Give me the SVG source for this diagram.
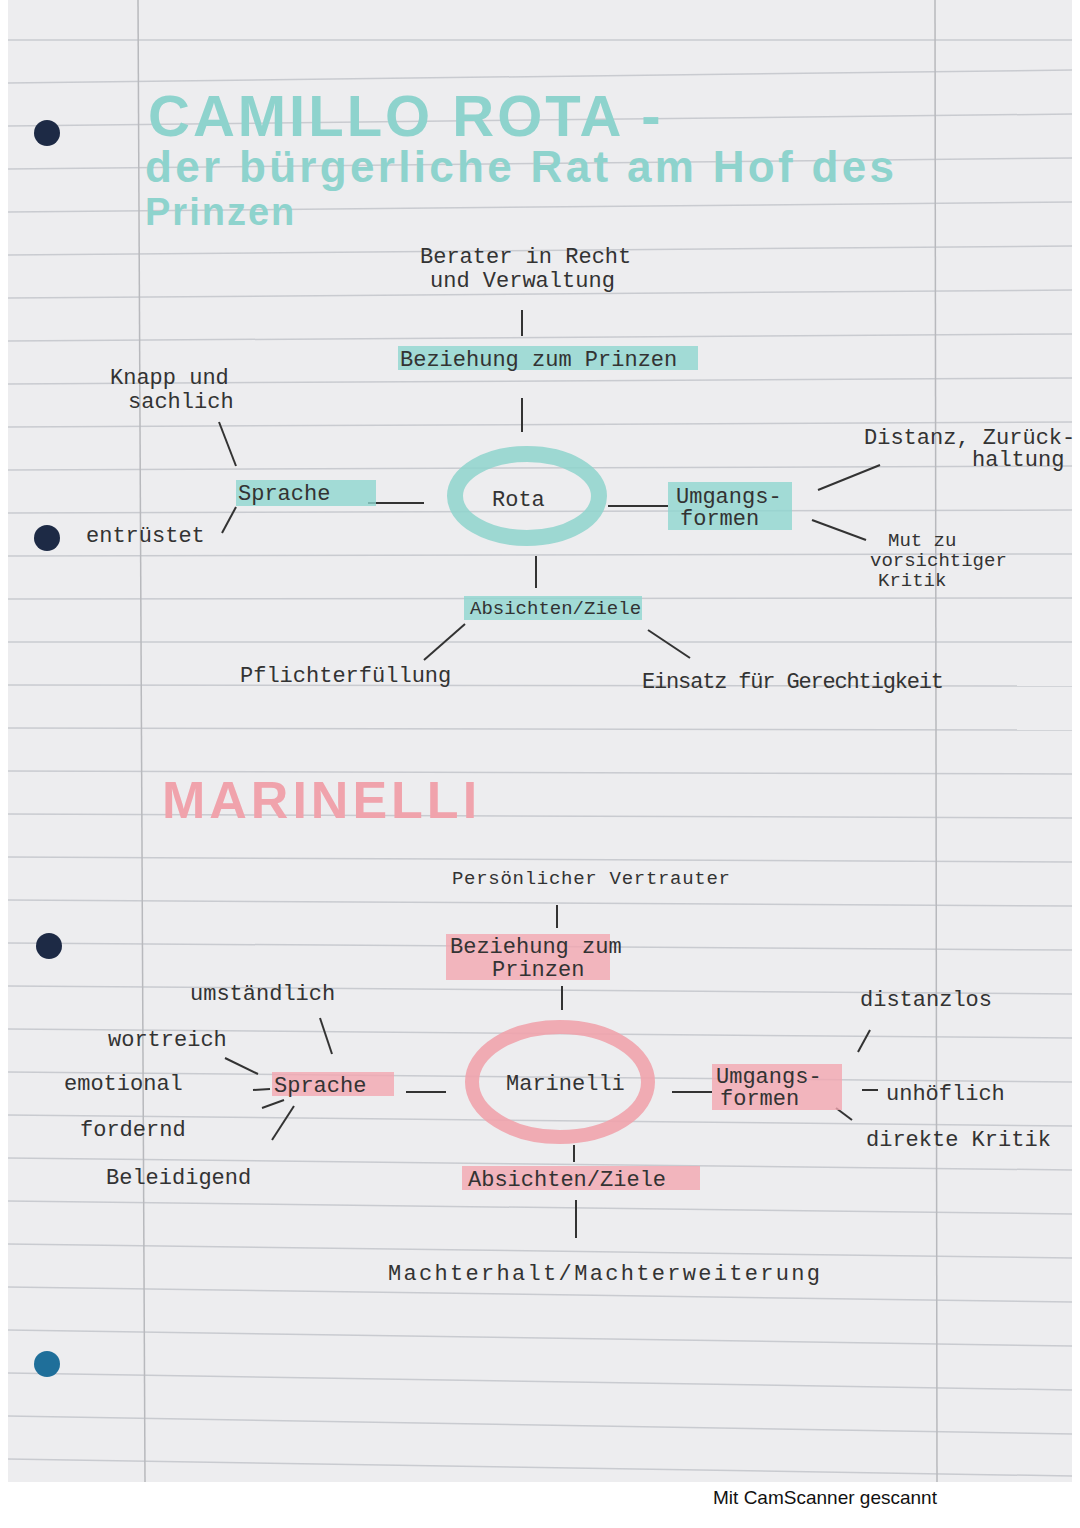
<svg xmlns="http://www.w3.org/2000/svg" width="1080" height="1528" viewBox="0 0 1080 1528">
<style>
.h{font-family:"Liberation Mono",monospace;fill:#333;font-size:22px}
.s{font-size:19px}
.ln{stroke:#333;stroke-width:2;fill:none}
.rule{stroke:#c9cbd0;stroke-width:1.5}
.mt{fill:#8fd6cf;opacity:.8}
.pk{fill:#f2a6b0;opacity:.8}
</style>
<rect width="1080" height="1528" fill="#fff"/>
<rect x="8" y="0" width="1064" height="1482" fill="#ededef"/>
<g id="rules">
<line class="rule" x1="8" y1="40" x2="1072" y2="40"/>
<line class="rule" x1="8" y1="83" x2="1072" y2="70"/>
<line class="rule" x1="8" y1="126" x2="1072" y2="114"/>
<line class="rule" x1="8" y1="169" x2="1072" y2="158"/>
<line class="rule" x1="8" y1="212" x2="1072" y2="202"/>
<line class="rule" x1="8" y1="255" x2="1072" y2="246"/>
<line class="rule" x1="8" y1="298" x2="1072" y2="290"/>
<line class="rule" x1="8" y1="341" x2="1072" y2="334"/>
<line class="rule" x1="8" y1="384" x2="1072" y2="378"/>
<line class="rule" x1="8" y1="427" x2="1072" y2="422"/>
<line class="rule" x1="8" y1="470" x2="1072" y2="466"/>
<line class="rule" x1="8" y1="513" x2="1072" y2="510"/>
<line class="rule" x1="8" y1="556" x2="1072" y2="554"/>
<line class="rule" x1="8" y1="599" x2="1072" y2="598"/>
<line class="rule" x1="8" y1="642" x2="1072" y2="642"/>
<line class="rule" x1="8" y1="685" x2="1072" y2="686"/>
<line class="rule" x1="8" y1="728" x2="1072" y2="730"/>
<line class="rule" x1="8" y1="771" x2="1072" y2="774"/>
<line class="rule" x1="8" y1="814" x2="1072" y2="818"/>
<line class="rule" x1="8" y1="857" x2="1072" y2="862"/>
<line class="rule" x1="8" y1="900" x2="1072" y2="906"/>
<line class="rule" x1="8" y1="943" x2="1072" y2="950"/>
<line class="rule" x1="8" y1="986" x2="1072" y2="994"/>
<line class="rule" x1="8" y1="1029" x2="1072" y2="1038"/>
<line class="rule" x1="8" y1="1072" x2="1072" y2="1082"/>
<line class="rule" x1="8" y1="1115" x2="1072" y2="1126"/>
<line class="rule" x1="8" y1="1158" x2="1072" y2="1170"/>
<line class="rule" x1="8" y1="1201" x2="1072" y2="1214"/>
<line class="rule" x1="8" y1="1244" x2="1072" y2="1258"/>
<line class="rule" x1="8" y1="1287" x2="1072" y2="1302"/>
<line class="rule" x1="8" y1="1330" x2="1072" y2="1346"/>
<line class="rule" x1="8" y1="1373" x2="1072" y2="1390"/>
<line class="rule" x1="8" y1="1416" x2="1072" y2="1434"/>
<line class="rule" x1="8" y1="1459" x2="1072" y2="1476"/>
<line x1="138" y1="0" x2="145" y2="1482" stroke="#b8b9bd" stroke-width="1.5"/>
<line x1="935" y1="0" x2="937" y2="1482" stroke="#b8b9bd" stroke-width="1.5"/>
</g>
<g id="holes" fill="#1d2a45">
<circle cx="47" cy="133" r="13"/><circle cx="47" cy="538" r="13"/><circle cx="49" cy="946" r="13"/><circle cx="47" cy="1364" r="13" fill="#1f6f9a"/>
</g>
<g id="title" font-family="Liberation Sans,sans-serif" font-weight="bold" fill="#8ed3cd">
<text x="148" y="136" font-size="58" letter-spacing="3">CAMILLO ROTA -</text>
<text x="145" y="182" font-size="44" letter-spacing="1" textLength="750">der bürgerliche Rat am Hof des</text>
<text x="145" y="225" font-size="38" letter-spacing="2">Prinzen</text>
</g>
<g id="title2"><text x="162" y="818" font-family="Liberation Sans,sans-serif" font-weight="bold" font-size="52" fill="#f0a3ac" letter-spacing="4">MARINELLI</text></g>
<g id="connectors">
<line class="ln" x1="522" y1="310" x2="522" y2="336"/>
<line class="ln" x1="522" y1="398" x2="522" y2="432"/>
<line class="ln" x1="219" y1="422" x2="236" y2="466"/>
<line class="ln" x1="368" y1="503" x2="424" y2="503"/>
<line class="ln" x1="236" y1="507" x2="222" y2="533"/>
<line class="ln" x1="608" y1="506" x2="668" y2="506"/>
<line class="ln" x1="818" y1="490" x2="880" y2="465"/>
<line class="ln" x1="812" y1="520" x2="866" y2="540"/>
<line class="ln" x1="536" y1="556" x2="536" y2="588"/>
<line class="ln" x1="465" y1="624" x2="424" y2="660"/>
<line class="ln" x1="648" y1="630" x2="690" y2="658"/>
<line class="ln" x1="557" y1="905" x2="557" y2="928"/>
<line class="ln" x1="562" y1="986" x2="562" y2="1010"/>
<line class="ln" x1="320" y1="1018" x2="332" y2="1054"/>
<line class="ln" x1="225" y1="1058" x2="258" y2="1074"/>
<line class="ln" x1="253" y1="1090" x2="270" y2="1089"/>
<line class="ln" x1="262" y1="1108" x2="284" y2="1100"/>
<line class="ln" x1="294" y1="1106" x2="272" y2="1140"/>
<line class="ln" x1="406" y1="1092" x2="446" y2="1092"/>
<line class="ln" x1="672" y1="1092" x2="712" y2="1092"/>
<line class="ln" x1="870" y1="1030" x2="858" y2="1052"/>
<line class="ln" x1="862" y1="1090" x2="878" y2="1090"/>
<line class="ln" x1="836" y1="1108" x2="852" y2="1120"/>
<line class="ln" x1="574" y1="1145" x2="574" y2="1162"/>
<line class="ln" x1="576" y1="1200" x2="576" y2="1238"/>
</g>
<g id="rota"><ellipse cx="527" cy="496" rx="72" ry="42" fill="none" stroke="#8ed3cd" stroke-width="16" opacity=".85"/><text class="h" x="492" y="506" font-size="28">Rota</text></g>
<g id="berater"><text class="h" x="420" y="263">Berater in Recht</text><text class="h" x="430" y="287">und Verwaltung</text></g>
<g id="bez1"><rect class="mt" x="398" y="346" width="300" height="24"/><text class="h" x="400" y="366">Beziehung zum Prinzen</text></g>
<g id="knapp"><text class="h" x="110" y="384">Knapp und</text><text class="h" x="128" y="408">sachlich</text></g>
<g id="sprache1"><rect class="mt" x="236" y="480" width="140" height="26"/><text class="h" x="238" y="500" font-size="25">Sprache</text></g>
<g id="entr"><text class="h" x="86" y="542">entrüstet</text></g>
<g id="umg1"><rect class="mt" x="668" y="482" width="124" height="48"/><text class="h" x="676" y="503" font-size="20">Umgangs-</text><text class="h" x="680" y="525" font-size="20">formen</text></g>
<g id="dist"><text class="h" x="864" y="444" font-size="20">Distanz, Zurück-</text><text class="h" x="972" y="466" font-size="20">haltung</text></g>
<g id="mut"><text class="h s" x="888" y="546">Mut zu</text><text class="h s" x="870" y="566">vorsichtiger</text><text class="h s" x="878" y="586">Kritik</text></g>
<g id="abs1"><rect class="mt" x="464" y="596" width="178" height="24"/><text class="h s" x="470" y="614">Absichten/Ziele</text></g>
<g id="pflicht"><text class="h" x="240" y="682">Pflichterfüllung</text></g>
<g id="einsatz"><text class="h" x="642" y="688" textLength="302">Einsatz für Gerechtigkeit</text></g>
<g id="pers"><text class="h s" x="452" y="884" textLength="278">Persönlicher Vertrauter</text></g>
<g id="bez2"><rect class="pk" x="446" y="934" width="164" height="46"/><text class="h" x="450" y="953" font-size="20">Beziehung zum</text><text class="h" x="492" y="976" font-size="20">Prinzen</text></g>
<g id="mar"><ellipse cx="560" cy="1082" rx="88" ry="55" fill="none" stroke="#f0a3ac" stroke-width="14" opacity=".9"/><text class="h" x="506" y="1090" font-size="24">Marinelli</text></g>
<g id="umst"><text class="h" x="190" y="1000">umständlich</text></g>
<g id="wort"><text class="h" x="108" y="1046">wortreich</text></g>
<g id="emo"><text class="h" x="64" y="1090">emotional</text></g>
<g id="ford"><text class="h" x="80" y="1136">fordernd</text></g>
<g id="bel"><text class="h" x="106" y="1184">Beleidigend</text></g>
<g id="sprache2"><rect class="pk" x="272" y="1072" width="122" height="24"/><text class="h" x="274" y="1092">Sprache</text></g>
<g id="umg2"><rect class="pk" x="712" y="1064" width="130" height="46"/><text class="h" x="716" y="1083" font-size="19">Umgangs-</text><text class="h" x="720" y="1105" font-size="19">formen</text></g>
<g id="distl"><text class="h" x="860" y="1006">distanzlos</text></g>
<g id="unh"><text class="h" x="886" y="1100">unhöflich</text></g>
<g id="dir"><text class="h" x="866" y="1146">direkte Kritik</text></g>
<g id="abs2"><rect class="pk" x="462" y="1166" width="238" height="24"/><text class="h" x="468" y="1186">Absichten/Ziele</text></g>
<g id="macht"><text class="h" x="388" y="1280" textLength="432">Machterhalt/Machterweiterung</text></g>
<text x="825" y="1504" text-anchor="middle" font-family="Liberation Sans,sans-serif" font-size="19" fill="#111">Mit CamScanner gescannt</text>
</svg>
